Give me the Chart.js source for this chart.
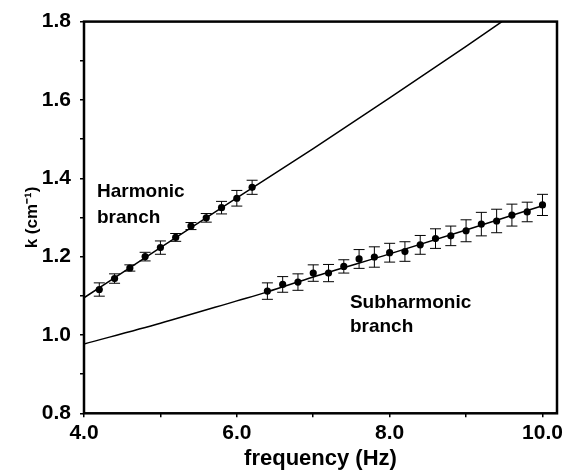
<!DOCTYPE html>
<html><head><meta charset="utf-8">
<script src="https://cdn.jsdelivr.net/npm/chart.js@4.4.0/dist/chart.umd.min.js"></script>
<style>html,body{margin:0;padding:0;background:#fff;}canvas{display:block}</style>
</head><body>
<canvas id="c" width="579" height="471"></canvas>
<script>
// ---- data ----
const harmonicFreq = [4.2, 4.4, 4.6, 4.8, 5.0, 5.2, 5.4, 5.6, 5.8, 6.0, 6.2];
const harmonicK    = [1.116, 1.144, 1.171, 1.200, 1.223, 1.249, 1.278, 1.299, 1.325, 1.349, 1.377];
const harmonicErr  = [0.017, 0.012, 0.008, 0.011, 0.017, 0.010, 0.009, 0.011, 0.016, 0.020, 0.018];

const subFreq = [6.4, 6.6, 6.8, 7.0, 7.2, 7.4, 7.6, 7.8, 8.0, 8.2, 8.4, 8.6, 8.8, 9.0, 9.2, 9.4, 9.6, 9.8, 10.0];
const subK    = [1.112, 1.129, 1.135, 1.158, 1.158, 1.175, 1.194, 1.199, 1.210, 1.213, 1.230, 1.246, 1.253, 1.266, 1.283, 1.291, 1.306, 1.314, 1.332];
const subErr  = [0.021, 0.020, 0.021, 0.021, 0.022, 0.017, 0.024, 0.026, 0.024, 0.025, 0.024, 0.025, 0.025, 0.028, 0.030, 0.030, 0.028, 0.025, 0.027];

const harmonicFitFreq = [4.0, 5.0, 6.0, 7.0, 8.0, 9.0, 9.47];
const harmonicFitK    = [1.095, 1.223, 1.350, 1.476, 1.605, 1.737, 1.800];
const subFitFreq = [4.0, 5.0, 6.0, 6.4, 7.0, 8.0, 9.0, 10.0];
const subFitK    = [0.977, 1.030, 1.087, 1.110, 1.148, 1.207, 1.268, 1.330];

const xTickValues = [4, 5, 6, 7, 8, 9, 10];
const xTickLabels = ['4.0', '', '6.0', '', '8.0', '', '10.0'];
const yTickValues = [0.8, 0.9, 1.0, 1.1, 1.2, 1.3, 1.4, 1.5, 1.6, 1.7, 1.8];
const yTickLabels = ['0.8', '', '1.0', '', '1.2', '', '1.4', '', '1.6', '', '1.8'];

const xTitle = 'frequency (Hz)';
const yTitle = 'k (cm\u207B\u00B9)';
const harmonicLabel = ['Harmonic', 'branch'];
const subLabel = ['Subharmonic', 'branch'];

// ---- helpers ----
const pts = (xs, ys) => xs.map((x, i) => ({x: x, y: ys[i]}));
const FONT = '"Liberation Sans", Arial, sans-serif';

const errorBars = {
  id: 'errorBars',
  beforeDatasetsDraw(chart) {
    const ctx = chart.ctx, xs = chart.scales.x, ys = chart.scales.y;
    ctx.save();
    ctx.strokeStyle = '#000';
    ctx.lineWidth = 1;
    chart.data.datasets.forEach(ds => {
      if (!ds.errors) return;
      ds.data.forEach((p, i) => {
        const e = ds.errors[i];
        const px = xs.getPixelForValue(p.x);
        const y1 = ys.getPixelForValue(p.y + e);
        const y2 = ys.getPixelForValue(p.y - e);
        const cap = 5.5;
        ctx.beginPath();
        ctx.moveTo(px, y1); ctx.lineTo(px, y2);
        ctx.moveTo(px - cap, y1); ctx.lineTo(px + cap, y1);
        ctx.moveTo(px - cap, y2); ctx.lineTo(px + cap, y2);
        ctx.stroke();
      });
    });
    ctx.restore();
  }
};

const frameAndText = {
  id: 'frameAndText',
  afterDraw(chart) {
    const ctx = chart.ctx, a = chart.chartArea, xs = chart.scales.x, ys = chart.scales.y;
    ctx.save();
    ctx.strokeStyle = '#000';
    ctx.lineWidth = 2.5;
    ctx.strokeRect(a.left, a.top, a.right - a.left, a.bottom - a.top);
    ctx.fillStyle = '#000';
    ctx.font = 'bold 19px ' + FONT;
    ctx.textAlign = 'left';
    ctx.textBaseline = 'alphabetic';
    const put = (lines, fx, ky, dy) => {
      const px = xs.getPixelForValue(fx), py = ys.getPixelForValue(ky);
      lines.forEach((t, i) => ctx.fillText(t, px, py + i * dy));
    };
    put(harmonicLabel, 4.17, 1.352, 25.5);
    put(subLabel, 7.48, 1.070, 24.5);
    ctx.restore();
  }
};

new Chart(document.getElementById('c'), {
  type: 'scatter',
  data: {
    datasets: [
      { type: 'line', data: pts(harmonicFitFreq, harmonicFitK), borderColor: '#000', borderWidth: 1.5,
        pointRadius: 0, cubicInterpolationMode: 'monotone', fill: false },
      { type: 'line', data: pts(subFitFreq, subFitK), borderColor: '#000', borderWidth: 1.5,
        pointRadius: 0, cubicInterpolationMode: 'monotone', fill: false },
      { data: pts(harmonicFreq, harmonicK), errors: harmonicErr, backgroundColor: '#000', borderColor: '#000',
        pointRadius: 3.6, borderWidth: 0 },
      { data: pts(subFreq, subK), errors: subErr, backgroundColor: '#000', borderColor: '#000',
        pointRadius: 3.6, borderWidth: 0 }
    ]
  },
  options: {
    responsive: false,
    animation: false,
    layout: { padding: { left: 0, right: 22, top: 18, bottom: 0 } },
    plugins: { legend: { display: false }, tooltip: { enabled: false } },
    scales: {
      x: {
        type: 'linear', min: 4, max: 10.19,
        afterBuildTicks: s => { s.ticks = xTickValues.map(v => ({value: v})); },
        afterFit: s => { s.height = 57.7; },
        grid: { display: true, drawOnChartArea: false, drawTicks: true, tickLength: 4, color: '#000', lineWidth: 1.5 },
        border: { display: false },
        ticks: {
          autoSkip: false, maxRotation: 0, padding: 3, color: '#000',
          font: { family: FONT, size: 21, weight: 'bold' },
          callback: (v) => { const i = xTickValues.indexOf(v); return i >= 0 ? xTickLabels[i] : ''; }
        },
        title: { display: true, text: xTitle, color: '#000', padding: { top: 0, bottom: 1 },
          font: { family: FONT, size: 22, weight: 'bold', lineHeight: 1 } }
      },
      y: {
        type: 'linear', min: 0.8, max: 1.8,
        afterBuildTicks: s => { s.ticks = yTickValues.map(v => ({value: v})); },
        afterFit: s => { s.width = 84; },
        grid: { display: true, drawOnChartArea: false, drawTicks: true, tickLength: 4, color: '#000', lineWidth: 1.5 },
        border: { display: false },
        ticks: {
          autoSkip: false, padding: 9, color: '#000',
          font: { family: FONT, size: 21, weight: 'bold' },
          callback: (v) => { const i = yTickValues.findIndex(t => Math.abs(t - v) < 1e-9); return i >= 0 ? yTickLabels[i] : ''; }
        },
        title: { display: true, text: yTitle, color: '#000', padding: { top: 22, bottom: 0 },
          font: { family: FONT, size: 17, weight: 'bold', lineHeight: 1.2 } }
      }
    }
  },
  plugins: [errorBars, frameAndText]
});
</script>
</body></html>
